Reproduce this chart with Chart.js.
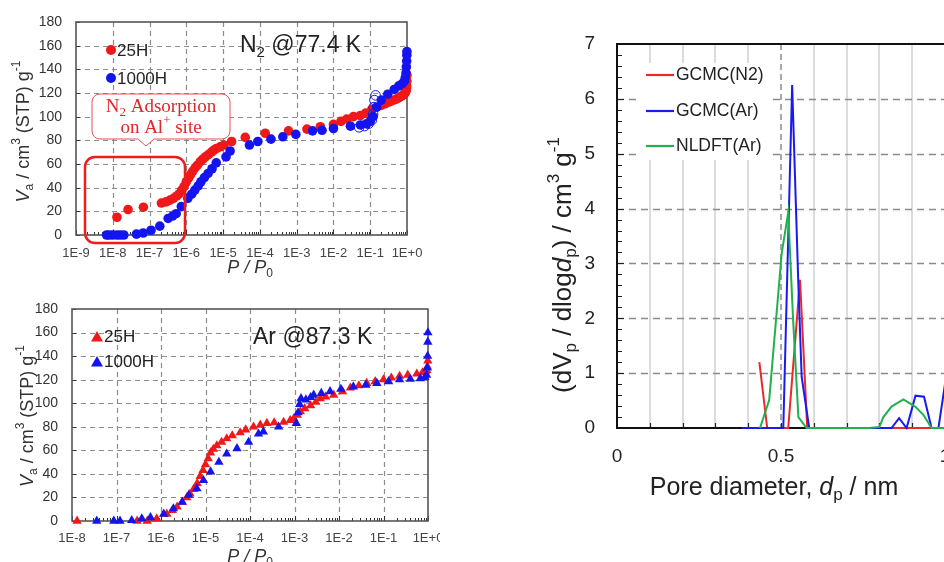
<!DOCTYPE html>
<html>
<head>
<meta charset="utf-8">
<script src="https://cdn.jsdelivr.net/npm/chart.js@4.4.0/dist/chart.umd.min.js"></script>
<style>
  html, body { margin: 0; padding: 0; background: #fff; width: 944px; height: 562px; overflow: hidden; position: relative; }
  .box { position: absolute; }
</style>
</head>
<body>
<div class="box" style="left:0;top:0;width:440px;height:280px"><canvas id="n2"></canvas></div>
<div class="box" style="left:0;top:290px;width:440px;height:272px"><canvas id="ar"></canvas></div>
<div class="box" style="left:540px;top:20px;width:600px;height:542px"><canvas id="psd"></canvas></div>
<script>
// ---- N2 @77.4 K isotherm (P/P0, Va) ----
const n2P25 = [1.3e-8, 2.6e-8, 6.8e-8, 2.1e-7, 2.8e-7, 3.6e-7, 4.5e-7, 5.5e-7, 6.5e-7, 7.5e-7, 8.7e-7, 1e-6, 1.15e-6, 1.3e-6, 1.5e-6, 1.75e-6, 2e-6, 2.4e-6, 2.8e-6, 3.3e-6, 4e-6, 4.8e-6, 5.5e-6, 6.5e-6, 8.3e-6, 1.05e-5, 1.7e-5, 4e-5, 1.4e-4, 6e-4, 1.9e-3, 4.4e-3, 1e-2, 1.6e-2, 2.3e-2, 3.5e-2, 5.4e-2, 7.5e-2, 0.11, 0.15, 0.2, 0.26, 0.33, 0.4, 0.48, 0.56, 0.64, 0.72, 0.8, 0.86, 0.9, 0.93, 0.95, 0.97, 0.98, 0.99, 0.995];
const n2V25 = [15, 21.5, 23.5, 27, 28, 29.5, 31, 33, 35, 38, 41, 45, 48, 51, 54, 57, 59, 62, 64, 66, 68, 70, 71.5, 73, 74.5, 76, 79, 82.5, 86, 88, 89.5, 91.5, 93.5, 96, 98, 100, 101, 103, 106, 108, 109.5, 111, 112.5, 113.5, 114.5, 115.5, 116.5, 117.5, 118.5, 119.5, 120.5, 121.5, 122.5, 124, 126, 130, 135];
const n2P1000 = [6.8e-9, 8e-9, 1e-8, 1.3e-8, 1.6e-8, 2e-8, 4.4e-8, 6.7e-8, 1.1e-7, 1.9e-7, 3.2e-7, 4.2e-7, 5.3e-7, 7.3e-7, 1.1e-6, 1.4e-6, 1.7e-6, 2.1e-6, 2.5e-6, 3.1e-6, 3.9e-6, 5e-6, 6.5e-6, 1.2e-5, 1.55e-5, 5.2e-5, 8.8e-5, 2e-4, 4.2e-4, 9.5e-4, 2.7e-3, 4.9e-3, 1e-2, 2.9e-2, 5.4e-2, 8e-2, 0.1, 0.12, 0.15, 0.2, 0.3, 0.45, 0.6, 0.75, 0.85, 0.9, 0.94, 0.96, 0.98, 0.99, 0.995];
const n2V1000 = [0, 0, 0, 0, 0, 0, 0.7, 1.7, 4, 7.5, 14, 16, 18, 24, 31, 34.5, 38, 41.5, 45, 48.5, 52, 56, 61, 66, 71, 76, 79, 81, 83, 85, 88, 88.5, 90, 92, 93, 94, 96, 100, 108, 114, 119, 123, 126, 128, 130, 133, 137, 142, 147, 152, 155];
const n2PDes1000 = [0.14, 0.13, 0.125, 0.12, 0.11, 0.09, 0.07, 0.05];
const n2VDes1000 = [118, 114, 108, 102, 97, 94, 92, 91];
const n2Ticks = [1e-9, 1e-8, 1e-7, 1e-6, 1e-5, 1e-4, 1e-3, 1e-2, 1e-1, 1];

// ---- Ar @87.3 K isotherm ----
const arP25 = [1.3e-8, 2.9e-7, 4.9e-7, 8e-7, 1.35e-6, 1.8e-6, 2.3e-6, 3e-6, 3.8e-6, 4.5e-6, 5.4e-6, 6.5e-6, 7.6e-6, 8.8e-6, 1e-5, 1.15e-5, 1.3e-5, 1.5e-5, 1.8e-5, 2.3e-5, 3e-5, 4e-5, 6e-5, 8e-5, 1.2e-4, 1.7e-4, 2.4e-4, 3.5e-4, 5.7e-4, 8e-4, 9.6e-4, 1.15e-3, 1.35e-3, 1.7e-3, 2.3e-3, 3e-3, 3.8e-3, 5e-3, 7.6e-3, 1.2e-2, 1.8e-2, 2.8e-2, 4.2e-2, 6.5e-2, 0.1, 0.15, 0.23, 0.35, 0.56, 0.75, 0.88, 0.94, 0.97, 0.99];
const arV25 = [0, 0, 0, 2, 6, 9, 12, 16, 20, 23, 27, 32, 38, 43, 48, 53, 58, 61, 64, 67, 70, 72.5, 75, 77.5, 80, 81.5, 83, 83.5, 84, 85.5, 87, 90, 93, 95.5, 98, 101, 104, 105.5, 107, 110, 113, 115, 117, 118.5, 120, 121.5, 123, 124, 125, 126, 127, 128, 131, 136];
const arP1000 = [3.6e-8, 8.7e-8, 1.2e-7, 2.2e-7, 3.7e-7, 5.8e-7, 1.15e-6, 1.9e-6, 3e-6, 4.2e-6, 6.4e-6, 9e-6, 1.3e-5, 2e-5, 3e-5, 5.1e-5, 9.3e-5, 1.55e-4, 2e-4, 4.4e-4, 1.1e-3, 1.2e-3, 1.3e-3, 1.4e-3, 1.8e-3, 2.3e-3, 2.7e-3, 4e-3, 6.3e-3, 1.1e-2, 2.1e-2, 4e-2, 7.1e-2, 0.13, 0.23, 0.4, 0.67, 0.85, 0.93, 0.96, 0.98, 0.99, 0.995];
const arV1000 = [0, 0, 0, 0.5, 2, 3, 6, 10.5, 16, 22, 27.5, 34.5, 41.8, 50, 57, 61.6, 67, 74, 75.8, 80, 83, 92, 99, 104, 103, 105, 107, 108.5, 110, 112, 114, 115.5, 117, 118.5, 120, 120.5, 121, 122, 124, 130, 140, 152, 160];
const arTicks = [1e-8, 1e-7, 1e-6, 1e-5, 1e-4, 1e-3, 1e-2, 1e-1, 1];

const isoYTicks = [0, 20, 40, 60, 80, 100, 120, 140, 160, 180];

// ---- pore size distribution (dp in nm, dVp/dlogdp) ----
const psdDN2 = [0.434, 0.458, 0.48, 0.5, 0.522, 0.558, 0.58, 0.62, 0.66, 0.7, 0.75, 0.8, 0.84, 0.88, 0.92, 0.96, 1.0, 1.04];
const psdN2 = [1.2, 0, 0, 0, 0, 2.7, 0, 0, 0, 0, 0, 0, 0, 0, 0, 0, 0, 0];
const psdDAr = [0.38, 0.42, 0.46, 0.507, 0.534, 0.553, 0.563, 0.586, 0.62, 0.66, 0.7, 0.74, 0.78, 0.837, 0.86, 0.883, 0.91, 0.936, 0.959, 0.98, 1.0, 1.02];
const psdAr = [0, 0, 0, 0, 6.25, 2.6, 0.93, 0, 0, 0, 0, 0, 0, 0, 0.18, 0, 0.59, 0.57, 0, 0, 0.8, 2.0];
const psdDDft = [0.436, 0.464, 0.502, 0.522, 0.537, 0.553, 0.578, 0.62, 0.66, 0.7, 0.74, 0.77, 0.8, 0.812, 0.837, 0.873, 0.909, 0.934, 0.959, 0.98, 1.02];
const psdDft = [0, 0.51, 3.18, 3.93, 1.96, 0.2, 0, 0, 0, 0, 0, 0, 0.02, 0.2, 0.39, 0.52, 0.39, 0.24, 0, 0, 0];
const psdXLabels = [0, 0.5, 1, 1.5];
const psdSeries = ['GCMC(N2)', 'GCMC(Ar)', 'NLDFT(Ar)'];

const RED = '#f01818', BLUE = '#1414f0';
const SANS = 'Liberation Sans';
const pts = (xs, ys) => xs.map((v, i) => ({ x: v, y: ys[i] }));

// text with sub/superscripts: parts = [[text, kind]], kind n|i|sub|sup|isub
function rich(ctx, parts, x, y, size, family, color, align, rot) {
  const fontOf = k => {
    const small = k === 'sub' || k === 'sup' || k === 'isub';
    const it = (k === 'i' || k === 'isub') ? 'italic ' : '';
    return it + (small ? Math.round(size * 0.66) : size) + 'px "' + family + '"';
  };
  ctx.save();
  let w = 0;
  parts.forEach(p => { ctx.font = fontOf(p[1]); w += ctx.measureText(p[0]).width; });
  ctx.translate(x, y);
  if (rot) ctx.rotate(-Math.PI / 2);
  let cx = align === 'left' ? 0 : -w / 2;
  ctx.fillStyle = color;
  ctx.textBaseline = 'middle';
  ctx.textAlign = 'left';
  parts.forEach(p => {
    const k = p[1];
    ctx.font = fontOf(k);
    const dy = (k === 'sub' || k === 'isub') ? size * 0.3 : k === 'sup' ? -size * 0.38 : 0;
    ctx.fillText(p[0], cx, dy);
    cx += ctx.measureText(p[0]).width;
  });
  ctx.restore();
}

const vaTitle = [['V', 'i'], ['a', 'sub'], [' / cm', 'n'], ['3', 'sup'], [' (STP) g', 'n'], ['-1', 'sup']];
const ppTitle = [['P', 'i'], [' / ', 'i'], ['P', 'i'], ['0', 'sub']];

function decadeLabel(v) {
  const e = Math.round(Math.log10(v));
  return '1E' + (e < 0 ? '-' + (-e) : '+' + e);
}

// fixed axis sizes, no extra padding from the tick labels
const fixY = w => s => { s.width = w; s.paddingTop = 0; s.paddingBottom = 0; };
const fixX = h => s => { s.height = h; s.paddingLeft = 0; s.paddingRight = 0; };

function isoChart(id, cfg) {
  const plugin = {
    id: 'iso_' + id,
    beforeDatasetsDraw(chart) {
      const { ctx, chartArea: a, scales: { x, y } } = chart;
      ctx.save();
      ctx.strokeStyle = '#8c8c8c';
      ctx.lineWidth = 1.2;
      ctx.setLineDash([5, 4]);
      ctx.beginPath();
      cfg.ticks.forEach(v => {
        const px = Math.round(x.getPixelForValue(v)) + 0.5;
        if (px > a.left + 2 && px < a.right - 2) { ctx.moveTo(px, a.top); ctx.lineTo(px, a.bottom); }
      });
      isoYTicks.forEach(v => {
        const py = Math.round(y.getPixelForValue(v)) + 0.5;
        if (py > a.top + 2 && py < a.bottom - 2) { ctx.moveTo(a.left, py); ctx.lineTo(a.right, py); }
      });
      ctx.stroke();
      ctx.setLineDash([]);
      ctx.strokeStyle = '#333';
      ctx.lineWidth = 1;
      ctx.beginPath();
      cfg.ticks.forEach((v, i) => {
        const px = Math.round(x.getPixelForValue(v)) + 0.5;
        ctx.moveTo(px, a.bottom); ctx.lineTo(px, a.bottom - 5);
        if (i < cfg.ticks.length - 1) {
          for (let m = 2; m < 10; m++) {
            const q = Math.round(x.getPixelForValue(v * m)) + 0.5;
            ctx.moveTo(q, a.bottom); ctx.lineTo(q, a.bottom - 3);
          }
        }
      });
      isoYTicks.forEach(v => {
        const py = Math.round(y.getPixelForValue(v)) + 0.5;
        ctx.moveTo(a.left, py); ctx.lineTo(a.left + 4, py);
      });
      ctx.stroke();
      ctx.strokeStyle = '#555';
      ctx.lineWidth = 1.6;
      ctx.strokeRect(a.left, a.top, a.right - a.left, a.bottom - a.top);
      ctx.restore();
    },
    afterDatasetsDraw(chart) {
      const { ctx, chartArea: a } = chart;
      rich(ctx, vaTitle, a.left + cfg.yTitle[0], (a.top + a.bottom) / 2 + cfg.yTitle[1], 18, SANS, '#333', 'center', true);
      rich(ctx, ppTitle, a.left + cfg.xTitle[0], a.bottom + cfg.xTitle[1], 18, SANS, '#333', 'center', false);
      cfg.decor(chart);
    }
  };

  return new Chart(document.getElementById(id), {
    type: 'scatter',
    data: { datasets: cfg.datasets },
    options: {
      responsive: true,
      maintainAspectRatio: false,
      animation: false,
      layout: { autoPadding: false, padding: cfg.pad },
      plugins: { legend: { display: false }, tooltip: { enabled: false } },
      scales: {
        x: {
          type: 'logarithmic',
          min: cfg.ticks[0],
          max: 1,
          afterBuildTicks: s => { s.ticks = cfg.ticks.map(v => ({ value: v })); },
          afterFit: fixX(cfg.xh),
          grid: { display: false, drawTicks: false },
          border: { display: false },
          ticks: { autoSkip: false, maxRotation: 0, padding: cfg.xpad, color: '#444', font: { family: SANS, size: 13 }, callback: v => decadeLabel(v) }
        },
        y: {
          min: 0,
          max: 180,
          afterBuildTicks: s => { s.ticks = isoYTicks.map(v => ({ value: v })); },
          afterFit: fixY(cfg.yw),
          grid: { display: false, drawTicks: false },
          border: { display: false },
          ticks: { padding: 14, color: '#333', font: { family: SANS, size: 14 } }
        }
      }
    },
    plugins: [plugin]
  });
}

function marker(ctx, style, x, y, r, color) {
  ctx.save();
  ctx.fillStyle = color;
  ctx.beginPath();
  if (style === 'circle') ctx.arc(x, y, r, 0, Math.PI * 2);
  else { ctx.moveTo(x, y - r * 1.15); ctx.lineTo(x + r, y + r * 0.6); ctx.lineTo(x - r, y + r * 0.6); ctx.closePath(); }
  ctx.fill();
  ctx.restore();
}

const circ = (data, color, order, open) => ({
  data, order, clip: false,
  pointStyle: 'circle', pointRadius: 4.8,
  pointBackgroundColor: open ? 'rgba(0,0,0,0)' : color,
  pointBorderColor: color, pointBorderWidth: open ? 1 : 0
});
const tri = (data, color, order) => ({
  data, order, clip: false,
  pointStyle: 'triangle', pointRadius: 5.4,
  pointBackgroundColor: color, pointBorderColor: color, pointBorderWidth: 0
});

isoChart('n2', {
  ticks: n2Ticks,
  pad: { left: 0, top: 22, right: 33, bottom: 0 },
  yw: 76, xh: 45, xpad: 11,
  yTitle: [-52, 3], xTitle: [174, 33],
  datasets: [
    circ(pts(n2P1000, n2V1000), BLUE, 1),
    circ(pts(n2PDes1000, n2VDes1000), BLUE, 0, true),
    circ(pts(n2P25, n2V25), RED, 2)
  ],
  decor(chart) {
    const { ctx, chartArea: a } = chart;
    marker(ctx, 'circle', a.left + 35, a.top + 28, 5, RED);
    marker(ctx, 'circle', a.left + 35, a.top + 56, 5, BLUE);
    rich(ctx, [['25H', 'n']], a.left + 41, a.top + 29, 17, SANS, '#222', 'left');
    rich(ctx, [['1000H', 'n']], a.left + 41, a.top + 57, 17, SANS, '#222', 'left');
    rich(ctx, [['N', 'n'], ['2', 'sub'], [' @77.4 K', 'n']], a.left + 164, a.top + 24, 23, SANS, '#222', 'left');
    // callout
    ctx.save();
    const bx = a.left + 16, by = a.top + 72, bw = 138, bh = 45;
    ctx.fillStyle = '#fff';
    ctx.strokeStyle = '#e85050';
    ctx.lineWidth = 1;
    ctx.beginPath();
    ctx.moveTo(bx + 8, by);
    ctx.arcTo(bx + bw, by, bx + bw, by + bh, 8);
    ctx.arcTo(bx + bw, by + bh, bx, by + bh, 8);
    ctx.lineTo(bx + 62, by + bh);
    ctx.lineTo(bx + 54, by + bh + 7);
    ctx.lineTo(bx + 46, by + bh);
    ctx.arcTo(bx, by + bh, bx, by, 8);
    ctx.arcTo(bx, by, bx + bw, by, 8);
    ctx.closePath();
    ctx.fill();
    ctx.stroke();
    ctx.restore();
    rich(ctx, [['N', 'n'], ['2', 'sub'], [' Adsorption', 'n']], bx + bw / 2, by + 13, 19, 'Liberation Serif', '#e02828', 'center');
    rich(ctx, [['on Al', 'n'], ['+', 'sup'], [' site', 'n']], bx + bw / 2, by + 34, 19, 'Liberation Serif', '#e02828', 'center');
    // highlight box
    ctx.save();
    ctx.strokeStyle = '#ee1c1c';
    ctx.lineWidth = 2.5;
    ctx.beginPath();
    ctx.roundRect(a.left + 9, a.top + 135, 100, 86, 10);
    ctx.stroke();
    ctx.restore();
  }
});

isoChart('ar', {
  ticks: arTicks,
  pad: { left: 0, top: 19, right: 12, bottom: 0 },
  yw: 72, xh: 41, xpad: 10,
  yTitle: [-44, 1], xTitle: [178, 36],
  datasets: [
    tri(pts(arP1000, arV1000), BLUE, 1),
    tri(pts(arP25, arV25), RED, 2)
  ],
  decor(chart) {
    const { ctx, chartArea: a } = chart;
    marker(ctx, 'tri', a.left + 25, a.top + 29, 6, RED);
    marker(ctx, 'tri', a.left + 25, a.top + 54, 6, BLUE);
    rich(ctx, [['25H', 'n']], a.left + 32, a.top + 28, 17, SANS, '#222', 'left');
    rich(ctx, [['1000H', 'n']], a.left + 32, a.top + 53, 17, SANS, '#222', 'left');
    rich(ctx, [['Ar @87.3 K', 'n']], a.left + 181, a.top + 29, 23, SANS, '#222', 'left');
  }
});

// ---- pore size distribution ----
const psdColors = ['#ea2a2a', '#1a1af0', '#22b04e'];
const psdPlugin = {
  id: 'psdDecor',
  beforeDatasetsDraw(chart) {
    const { ctx, chartArea: a, scales: { x, y } } = chart;
    ctx.save();
    for (let i = 1; i <= 15; i++) {
      const px = Math.round(x.getPixelForValue(i / 10));
      ctx.beginPath();
      if (i % 5 === 0) { ctx.strokeStyle = '#a8a8a8'; ctx.setLineDash([6, 4]); }
      else { ctx.strokeStyle = '#dcdcdc'; ctx.setLineDash([]); }
      ctx.lineWidth = 2;
      ctx.moveTo(px, a.top); ctx.lineTo(px, a.bottom);
      ctx.stroke();
    }
    ctx.strokeStyle = '#8a8a8a';
    ctx.lineWidth = 1.5;
    ctx.setLineDash([7, 5]);
    ctx.beginPath();
    for (let v = 1; v <= 6; v++) {
      const py = Math.round(y.getPixelForValue(v)) + 0.5;
      ctx.moveTo(a.left, py); ctx.lineTo(a.right, py);
    }
    ctx.stroke();
    ctx.setLineDash([]);
    ctx.strokeStyle = '#222';
    ctx.lineWidth = 1.2;
    ctx.beginPath();
    for (let k = 1; k < 35; k++) {
      const py = Math.round(y.getPixelForValue(k / 5)) + 0.5;
      ctx.moveTo(a.left, py); ctx.lineTo(a.left + (k % 5 === 0 ? 7 : 5), py);
    }
    for (let i = 1; i <= 15; i++) {
      const px = Math.round(x.getPixelForValue(i / 10)) + 0.5;
      ctx.moveTo(px, a.bottom); ctx.lineTo(px, a.bottom - 5);
    }
    ctx.stroke();
    ctx.strokeStyle = '#111';
    ctx.lineWidth = 2;
    ctx.beginPath();
    ctx.moveTo(a.right, a.top); ctx.lineTo(a.left, a.top); ctx.lineTo(a.left, a.bottom); ctx.lineTo(a.right, a.bottom);
    ctx.stroke();
    ctx.restore();
  },
  afterDatasetsDraw(chart) {
    const { ctx, chartArea: a } = chart;
    ctx.save();
    ctx.fillStyle = '#fff';
    ctx.fillRect(a.left + 23, a.top + 19, 133, 97);
    psdSeries.forEach((name, i) => {
      const yy = a.top + [31, 67, 102][i];
      ctx.strokeStyle = psdColors[i];
      ctx.lineWidth = 2.2;
      ctx.beginPath();
      ctx.moveTo(a.left + 29, yy); ctx.lineTo(a.left + 57, yy);
      ctx.stroke();
      rich(ctx, [[name, 'n']], a.left + 59, yy, 17.5, SANS, '#222', 'left');
    });
    ctx.restore();
    rich(ctx, [['(d', 'n'], ['V', 'n'], ['p', 'sub'], [' / dlog', 'n'], ['d', 'i'], ['p', 'sub'], [') / cm', 'n'], ['3', 'sup'], [' g', 'n'], ['-1', 'sup']],
      a.left - 53, a.top + 221, 26, SANS, '#222', 'center', true);
    rich(ctx, [['Pore diameter, ', 'n'], ['d', 'i'], ['p', 'sub'], [' / nm', 'n']],
      a.left + 157, a.bottom + 60, 25, SANS, '#222', 'center');
  }
};

const psdLine = (xs, ys, i) => ({
  label: psdSeries[i],
  data: pts(xs, ys),
  showLine: true,
  borderColor: psdColors[i],
  borderWidth: 2,
  pointRadius: 0,
  tension: 0,
  clip: false,
  order: 2 - i
});

new Chart(document.getElementById('psd'), {
  type: 'scatter',
  data: {
    datasets: [
      psdLine(psdDN2, psdN2, 0),
      psdLine(psdDAr, psdAr, 1),
      psdLine(psdDDft, psdDft, 2)
    ]
  },
  options: {
    responsive: true,
    maintainAspectRatio: false,
    animation: false,
    layout: { autoPadding: false, padding: { left: 0, top: 24, right: 31, bottom: 0 } },
    plugins: { legend: { display: false }, tooltip: { enabled: false } },
    scales: {
      x: {
        type: 'linear',
        min: 0,
        max: 1.5,
        afterBuildTicks: s => { s.ticks = psdXLabels.map(v => ({ value: v })); },
        afterFit: fixX(134),
        grid: { display: false, drawTicks: false },
        border: { display: false },
        ticks: { autoSkip: false, maxRotation: 0, padding: 17, color: '#222', font: { family: SANS, size: 19 }, callback: v => String(v) }
      },
      y: {
        min: 0,
        max: 7,
        afterBuildTicks: s => { s.ticks = [0, 1, 2, 3, 4, 5, 6, 7].map(v => ({ value: v })); },
        afterFit: fixY(77),
        grid: { display: false, drawTicks: false },
        border: { display: false },
        ticks: { padding: 22, color: '#222', font: { family: SANS, size: 19 } }
      }
    }
  },
  plugins: [psdPlugin]
});
</script>
</body>
</html>
